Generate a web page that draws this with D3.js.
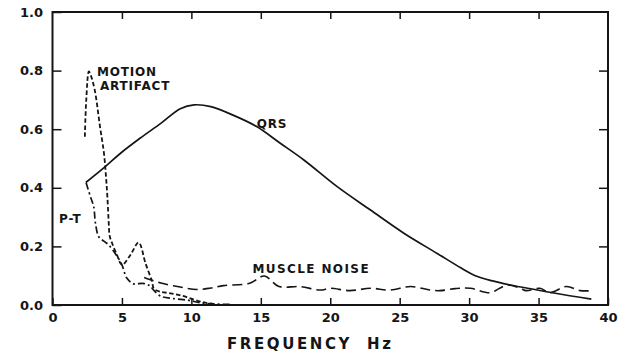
<!DOCTYPE html>
<html>
<head>
<meta charset="utf-8">
<script src="https://cdn.jsdelivr.net/npm/d3@7/dist/d3.min.js"></script>
<style>
  html, body { margin: 0; padding: 0; background: #fff; }
  svg { display: block; }
  text { font-family: "DejaVu Sans", sans-serif; font-weight: bold; fill: #151515; }
</style>
</head>
<body>
<svg id="chart" width="628" height="353"></svg>
<script>
// Relative power spectra of ECG components, [frequency Hz, relative power]
const qrs = [
  [2.4, 0.418], [3.8, 0.472], [4.9, 0.518], [6.3, 0.569], [7.8, 0.620],
  [9.2, 0.670], [10.2, 0.683], [11.4, 0.677], [13.0, 0.648], [14.7, 0.609],
  [16.4, 0.552], [18.1, 0.495], [20.5, 0.404], [22.9, 0.324], [25.3, 0.245],
  [27.7, 0.176], [29.4, 0.127], [30.4, 0.101], [31.6, 0.083], [32.9, 0.069],
  [36.1, 0.041], [38.8, 0.020]
];

const motionArtifact = [
  [2.33, 0.574], [2.43, 0.699], [2.62, 0.797], [2.75, 0.785], [3.04, 0.734],
  [3.42, 0.609], [3.70, 0.520], [3.85, 0.440], [3.95, 0.370], [4.05, 0.280],
  [4.12, 0.235], [4.30, 0.210], [4.65, 0.170], [5.00, 0.137], [5.60, 0.170],
  [6.20, 0.213], [6.70, 0.142], [7.17, 0.080], [7.30, 0.056], [7.80, 0.045],
  [8.50, 0.040], [9.30, 0.032], [10.2, 0.018], [11.0, 0.008], [11.8, 0.002]
];

const pt = [
  [2.42, 0.417], [2.73, 0.370], [2.97, 0.335], [3.09, 0.280], [3.33, 0.233],
  [3.70, 0.218], [4.05, 0.205], [4.60, 0.170], [5.00, 0.137], [5.35, 0.092],
  [5.85, 0.072], [6.50, 0.074], [7.00, 0.066], [7.30, 0.050], [7.80, 0.030],
  [8.70, 0.022], [9.80, 0.016], [10.6, 0.008], [11.5, 0.004], [12.8, 0.002]
];

const muscleNoise = [
  [6.6, 0.094], [7.0, 0.087], [7.8, 0.075], [9.1, 0.062], [10.4, 0.053],
  [11.4, 0.058], [12.3, 0.066], [14.2, 0.074], [15.25, 0.099], [16.3, 0.063],
  [17.8, 0.063], [19.3, 0.051], [20.0, 0.057], [21.4, 0.049], [22.9, 0.057],
  [24.3, 0.051], [25.8, 0.063], [27.2, 0.051], [27.9, 0.049], [29.0, 0.056],
  [30.1, 0.057], [31.5, 0.042], [32.2, 0.057], [32.7, 0.068], [33.7, 0.057],
  [34.1, 0.049], [35.1, 0.057], [35.8, 0.042], [37.0, 0.063], [38.0, 0.049],
  [38.9, 0.049]
];

const xTicks = [0, 5, 10, 15, 20, 25, 30, 35, 40];
const yTicks = [0, 0.2, 0.4, 0.6, 0.8, 1.0];

const svg = d3.select("#chart");
const ink = "#151515";

const x = d3.scaleLinear().domain([0, 40]).range([52.5, 608]);
const y = d3.scaleLinear().domain([0, 1]).range([305, 12]);

// Axes with inward ticks on all four sides
const axisB = svg.append("g").attr("transform", `translate(0,${y(0)})`)
  .call(d3.axisBottom(x).tickValues(xTicks).tickSize(-7).tickSizeOuter(0).tickPadding(8)
    .tickFormat(d3.format("d")));
const axisT = svg.append("g").attr("transform", `translate(0,${y(1)})`)
  .call(d3.axisTop(x).tickValues(xTicks.slice(1, -1)).tickSize(-7).tickSizeOuter(0).tickFormat(""));
const axisL = svg.append("g").attr("transform", `translate(${x(0)},0)`)
  .call(d3.axisLeft(y).tickValues(yTicks).tickSize(-9).tickSizeOuter(0).tickPadding(9.5)
    .tickFormat(d3.format(".1f")));
const axisR = svg.append("g").attr("transform", `translate(${x(40)},0)`)
  .call(d3.axisRight(y).tickValues(yTicks.slice(1, -1)).tickSize(-9).tickSizeOuter(0).tickFormat(""));

[axisB, axisT, axisL, axisR].forEach(g => {
  g.select(".domain").remove();
  g.selectAll(".tick line").attr("stroke", ink).attr("stroke-width", 1.5);
  g.selectAll(".tick text").attr("fill", ink).style("font-size", "13px")
    .style("font-family", "'DejaVu Sans', sans-serif").style("font-weight", "bold");
});

// Plot frame
svg.append("rect")
  .attr("x", x(0)).attr("y", y(1))
  .attr("width", x(40) - x(0)).attr("height", y(0) - y(1))
  .attr("fill", "none").attr("stroke", ink).attr("stroke-width", 2);

// Spectra
const line = d3.line()
  .x(d => x(d[0])).y(d => y(d[1]))
  .curve(d3.curveCatmullRom.alpha(0.5));

const series = [
  { data: qrs, dash: null, width: 1.7 },
  { data: motionArtifact, dash: "4.5,2.5", width: 1.8 },
  { data: pt, dash: "7,3,2,3", width: 1.7 },
  { data: muscleNoise, dash: "10,5", width: 1.6 }
];

svg.append("g").selectAll("path").data(series).join("path")
  .attr("d", s => line(s.data))
  .attr("fill", "none")
  .attr("stroke", ink)
  .attr("stroke-width", s => s.width)
  .attr("stroke-dasharray", s => s.dash)
  .attr("stroke-linejoin", "round");

// Curve labels
const labels = [
  { text: "MOTION", f: 3.2, v: 0.780 },
  { text: "ARTIFACT", f: 3.42, v: 0.735 },
  { text: "QRS", f: 14.7, v: 0.604 },
  { text: "P-T", f: 0.47, v: 0.280 },
  { text: "MUSCLE NOISE", f: 14.4, v: 0.109 }
];

svg.append("g").selectAll("text").data(labels).join("text")
  .attr("x", d => x(d.f)).attr("y", d => y(d.v))
  .style("font-size", "12px")
  .style("letter-spacing", d => d.text === "MUSCLE NOISE" ? "1.4px" : "0.8px")
  .text(d => d.text);

// Axis title
svg.append("text").attr("x", 227).attr("y", 349)
  .style("font-size", "15px").style("letter-spacing", "2.6px")
  .text("FREQUENCY");
svg.append("text").attr("x", 367).attr("y", 349)
  .style("font-size", "15px").style("letter-spacing", "2.6px")
  .text("Hz");
</script>
</body>
</html>
